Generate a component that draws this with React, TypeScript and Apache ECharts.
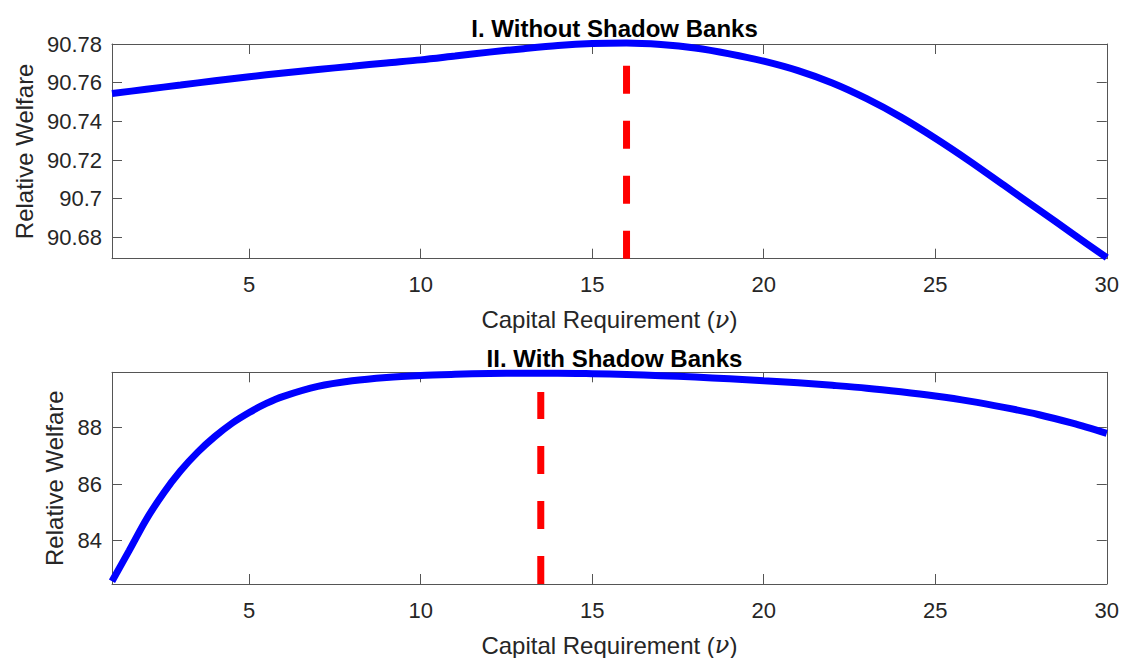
import React, { useEffect, useRef } from "react";
import * as echarts from "echarts";

// ---- Data ----
const topNu = [1, 2, 3, 4, 5, 6, 7, 8, 9, 10, 11, 12, 13, 14, 15, 16, 17, 18, 19, 20, 21, 22, 23, 24, 25, 26, 27, 28, 29, 30];
const topWelfare = [
  90.7544, 90.7566, 90.7588, 90.761, 90.7631, 90.765, 90.7668, 90.7685, 90.7702, 90.7718,
  90.7738, 90.7758, 90.7776, 90.7792, 90.7802, 90.7805, 90.7797, 90.7779, 90.7749, 90.7711,
  90.7662, 90.7598, 90.7517, 90.7422, 90.7313, 90.7195, 90.707, 90.6945, 90.682, 90.6695,
];
const bottomNu = [1, 1.5, 2, 2.5, 3, 3.5, 4, 4.5, 5, 5.5, 6, 7, 8, 9, 10, 11, 12, 13, 14, 15, 16, 17, 18, 19, 20, 21, 22, 23, 24, 25, 26, 27, 28, 29, 30];
const bottomWelfare = [
  82.57, 83.65, 84.75, 85.68, 86.47, 87.13, 87.68, 88.15, 88.53, 88.85, 89.1, 89.45, 89.65, 89.77, 89.84,
  89.88, 89.91, 89.92, 89.92, 89.9, 89.87, 89.83, 89.78, 89.72, 89.65, 89.58, 89.49, 89.39, 89.26, 89.11,
  88.93, 88.71, 88.46, 88.15, 87.79,
];
const xTicks = [5, 10, 15, 20, 25, 30];
const topYTicks = [90.68, 90.7, 90.72, 90.74, 90.76, 90.78];
const bottomYTicks = [84, 86, 88];
const xRange = [1, 30];
const topRange = [90.669, 90.78];
const bottomRange = [82.47, 89.95];
const topOptimalNu = 16;
const topOptimalHeight = 90.77;
const bottomOptimalNu = 13.5;
const bottomOptimalHeight = 89.25;
const titles = ["I. Without Shadow Banks", "II. With Shadow Banks"];
const xName = "Capital Requirement ({i|ν})";
const yName = "Relative Welfare";

const AXIS_COLOR = "#555555";
const TEXT_COLOR = "#262626";
const FONT = "Liberation Sans, Arial, Helvetica, sans-serif";

export default function App() {
  const ref = useRef<HTMLDivElement>(null);

  useEffect(() => {
    if (!ref.current) return;
    const chart = echarts.init(ref.current, null, { renderer: "svg" });

    const fmt = (v: number) => String(parseFloat(v.toFixed(2)));

    const mkX = (gridIndex: number, main: boolean) => ({
      type: "value",
      gridIndex,
      position: main ? "bottom" : "top",
      min: xRange[0],
      max: xRange[1],
      splitLine: { show: false },
      axisLine: { show: true, onZero: false, lineStyle: { color: AXIS_COLOR, width: 1 } },
      axisTick: { show: true, inside: true, length: 10, customValues: xTicks, lineStyle: { color: AXIS_COLOR } },
      axisLabel: {
        show: main,
        customValues: xTicks,
        margin: 15,
        fontSize: 22,
        color: TEXT_COLOR,
        fontFamily: FONT,
      },
      name: main ? xName : "",
      nameLocation: "middle",
      nameGap: 49,
      nameTextStyle: {
        fontSize: 24,
        color: TEXT_COLOR,
        fontFamily: FONT,
        rich: {
          i: { fontSize: 24, fontFamily: "DejaVu Serif, serif", fontStyle: "italic", color: TEXT_COLOR },
        },
      },
    });

    const mkY = (gridIndex: number, main: boolean, range: number[], ticks: number[], gap: number) => ({
      type: "value",
      gridIndex,
      position: main ? "left" : "right",
      min: range[0],
      max: range[1],
      splitLine: { show: false },
      axisLine: { show: true, onZero: false, lineStyle: { color: AXIS_COLOR, width: 1 } },
      axisTick: { show: true, inside: true, length: 10, customValues: ticks, lineStyle: { color: AXIS_COLOR } },
      axisLabel: {
        show: main,
        customValues: ticks,
        margin: 10,
        fontSize: 22,
        color: TEXT_COLOR,
        fontFamily: FONT,
        formatter: fmt,
      },
      name: main ? yName : "",
      nameLocation: "middle",
      nameGap: gap,
      nameTextStyle: { fontSize: 24, color: TEXT_COLOR, fontFamily: FONT },
    });

    const blue = (xi: number, yi: number, xs: number[], ys: number[]) => ({
      type: "line",
      xAxisIndex: xi,
      yAxisIndex: yi,
      data: xs.map((x, i) => [x, ys[i]]),
      showSymbol: false,
      symbol: "none",
      smooth: 0.3,
      clip: false,
      lineStyle: { color: "#0000ff", width: 7 },
      z: 3,
    });

    const red = (xi: number, yi: number, nu: number, lo: number, hi: number) => ({
      type: "line",
      xAxisIndex: xi,
      yAxisIndex: yi,
      data: [
        [nu, lo],
        [nu, hi],
      ],
      showSymbol: false,
      symbol: "none",
      clip: false,
      lineStyle: { color: "#ff0000", width: 7, type: [28, 27], cap: "butt" },
      z: 4,
    });

    chart.setOption({
      animation: false,
      backgroundColor: "#ffffff",
      title: [
        {
          text: titles[0],
          left: 609.5,
          top: 11,
          textAlign: "center",
          textStyle: { fontSize: 24, fontWeight: "bold", color: "#000000", fontFamily: FONT },
        },
        {
          text: titles[1],
          left: 609.5,
          top: 341,
          textAlign: "center",
          textStyle: { fontSize: 24, fontWeight: "bold", color: "#000000", fontFamily: FONT },
        },
      ],
      grid: [
        { left: 112, top: 44, width: 995, height: 214.7 },
        { left: 112, top: 372.3, width: 995, height: 213.7 },
      ],
      xAxis: [mkX(0, true), mkX(0, false), mkX(1, true), mkX(1, false)],
      yAxis: [
        mkY(0, true, topRange, topYTicks, 76),
        mkY(0, false, topRange, topYTicks, 0),
        mkY(1, true, bottomRange, bottomYTicks, 44),
        mkY(1, false, bottomRange, bottomYTicks, 0),
      ],
      series: [
        blue(0, 0, topNu, topWelfare),
        red(0, 0, topOptimalNu, topRange[0], topOptimalHeight),
        blue(2, 2, bottomNu, bottomWelfare),
        red(2, 2, bottomOptimalNu, bottomRange[0], bottomOptimalHeight),
      ],
    });

    return () => chart.dispose();
  }, []);

  return (
    <div
      ref={ref}
      style={{ position: "absolute", left: 0, top: 0, width: 1122, height: 658, background: "#fff" }}
    />
  );
}
